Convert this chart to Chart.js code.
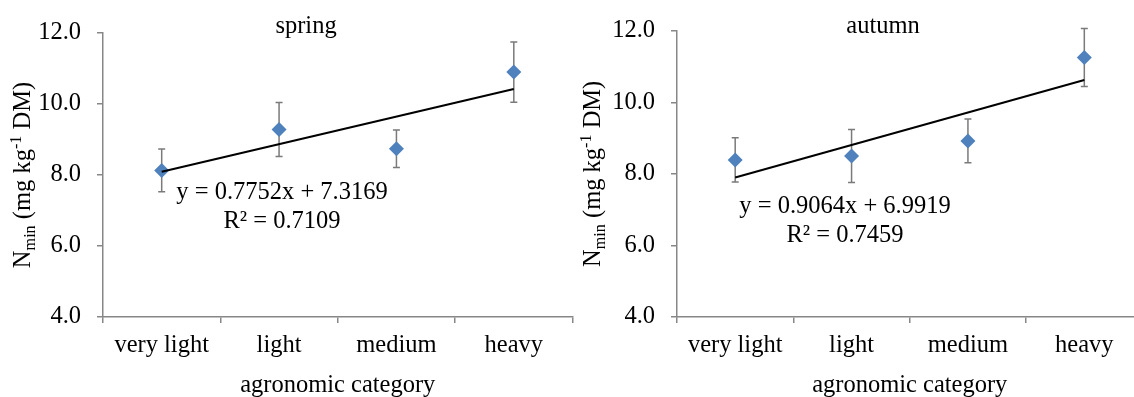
<!DOCTYPE html>
<html>
<head>
<meta charset="utf-8">
<script src="https://cdn.jsdelivr.net/npm/chart.js@4.4.1/dist/chart.umd.min.js"></script>
<style>
  html, body { margin: 0; padding: 0; background: #fff; overflow: hidden; width: 1134px; height: 397px; }
  canvas { position: absolute; top: 0; }
  #springChart { left: 0; }
  #autumnChart { left: 580px; }
</style>
</head>
<body>
<canvas id="springChart" width="580" height="397"></canvas>
<canvas id="autumnChart" width="570" height="397"></canvas>
<script>
const categories = ['very light', 'light', 'medium', 'heavy'];
const yTicks = [4, 6, 8, 10, 12];

const springMeans = [8.13, 9.28, 8.74, 10.90];
const springErr = [0.60, 0.76, 0.53, 0.85];
const springTrend = [8.09, null, null, 10.42];

const autumnMeans = [8.39, 8.50, 8.92, 11.25];
const autumnErr = [0.62, 0.74, 0.61, 0.81];
const autumnTrend = [7.90, null, null, 10.62];

const FONT = 'Liberation Serif';
const FS = 24.5;
const AXIS_GREY = '#878787';

// error bars + texts (title, equation, y title with sub/superscript)
const decorPlugin = {
  id: 'decor',
  beforeDatasetsDraw(chart, args, opts) {
    const ctx = chart.ctx, x = chart.scales.x, y = chart.scales.y;
    ctx.save();
    ctx.strokeStyle = '#7a7a7a';
    ctx.lineWidth = 1.5;
    opts.means.forEach((m, i) => {
      const px = x.getPixelForValue(i);
      const top = y.getPixelForValue(m + opts.errors[i]);
      const bot = y.getPixelForValue(m - opts.errors[i]);
      ctx.beginPath();
      ctx.moveTo(px, top); ctx.lineTo(px, bot);
      ctx.moveTo(px - 3.5, top); ctx.lineTo(px + 3.5, top);
      ctx.moveTo(px - 3.5, bot); ctx.lineTo(px + 3.5, bot);
      ctx.stroke();
    });
    ctx.restore();
  },
  afterDraw(chart, args, opts) {
    const ctx = chart.ctx, a = chart.chartArea;
    ctx.save();
    ctx.fillStyle = '#000';
    ctx.textAlign = 'center';
    ctx.textBaseline = 'alphabetic';
    ctx.font = FS + 'px "' + FONT + '"';
    ctx.fillText(opts.title, a.left + opts.titleDx, 33);
    ctx.fillText(opts.eq1, a.left + opts.eqDx, opts.eqY);
    ctx.fillText(opts.eq2, a.left + opts.eqDx, opts.eqY + 28.5);
    ctx.fillText('agronomic category', (a.left + a.right) / 2, 392);

    // y axis title, rotated
    const parts = [
      { t: 'N', s: FS, dy: 0 },
      { t: 'min', s: FS * 0.66, dy: 5 },
      { t: ' (mg kg', s: FS, dy: 0 },
      { t: '-1', s: FS * 0.66, dy: -9 },
      { t: ' DM)', s: FS, dy: 0 }
    ];
    let total = 0;
    parts.forEach(p => { ctx.font = p.s + 'px "' + FONT + '"'; p.w = ctx.measureText(p.t).width; total += p.w; });
    ctx.translate(opts.yTitleX, (a.top + a.bottom) / 2);
    ctx.rotate(-Math.PI / 2);
    ctx.textAlign = 'left';
    let cx = -total / 2;
    parts.forEach(p => {
      ctx.font = p.s + 'px "' + FONT + '"';
      ctx.fillText(p.t, cx, 8 + p.dy);
      cx += p.w;
    });
    ctx.restore();
  }
};

function makeChart(id, means, trend, errors, o) {
  return new Chart(document.getElementById(id), {
    type: 'line',
    data: {
      labels: categories,
      datasets: [
        {
          data: trend,
          spanGaps: true,
          borderColor: '#000',
          borderWidth: 2,
          pointRadius: 0,
          fill: false
        },
        {
          data: means,
          showLine: false,
          pointStyle: 'rectRot',
          pointRadius: 7.5,
          pointBackgroundColor: '#4f81bd',
          pointBorderColor: '#4f81bd',
          pointBorderWidth: 0
        }
      ]
    },
    options: {
      responsive: false,
      animation: false,
      devicePixelRatio: 1,
      layout: { padding: { left: 0, right: o.padRight, top: o.padTop, bottom: 0 } },
      scales: {
        x: {
          offset: true,
          afterFit: s => { s.height = 80; },
          grid: { offset: true, drawOnChartArea: false, color: AXIS_GREY, tickLength: 6, lineWidth: 1.5 },
          border: { color: AXIS_GREY, width: 1.5 },
          ticks: { color: '#000', font: { family: FONT, size: FS }, padding: 8, maxRotation: 0 }
        },
        y: {
          min: 4,
          max: 12,
          afterFit: s => { s.width = o.yWidth; },
          afterBuildTicks: s => { s.ticks = yTicks.map(v => ({ value: v })); },
          grid: { drawOnChartArea: false, color: AXIS_GREY, tickLength: 6, lineWidth: 1.5 },
          border: { color: AXIS_GREY, width: 1.5 },
          ticks: { color: '#000', font: { family: FONT, size: FS }, padding: 16, callback: v => v.toFixed(1) }
        }
      },
      plugins: {
        legend: { display: false },
        tooltip: { enabled: false },
        decor: Object.assign({ means: means, errors: errors }, o.decor)
      }
    },
    plugins: [decorPlugin]
  });
}

makeChart('springChart', springMeans, springTrend, springErr, {
  padRight: 6, padTop: 33, yWidth: 103,
  decor: { title: 'spring', titleDx: 203, eq1: 'y = 0.7752x + 7.3169', eq2: 'R\u00b2 = 0.7109', eqDx: 179, eqY: 199, yTitleX: 22 }
});

makeChart('autumnChart', autumnMeans, autumnTrend, autumnErr, {
  padRight: 7, padTop: 30, yWidth: 97,
  decor: { title: 'autumn', titleDx: 206, eq1: 'y = 0.9064x + 6.9919', eq2: 'R\u00b2 = 0.7459', eqDx: 168, eqY: 213, yTitleX: 12 }
});
</script>
</body>
</html>
